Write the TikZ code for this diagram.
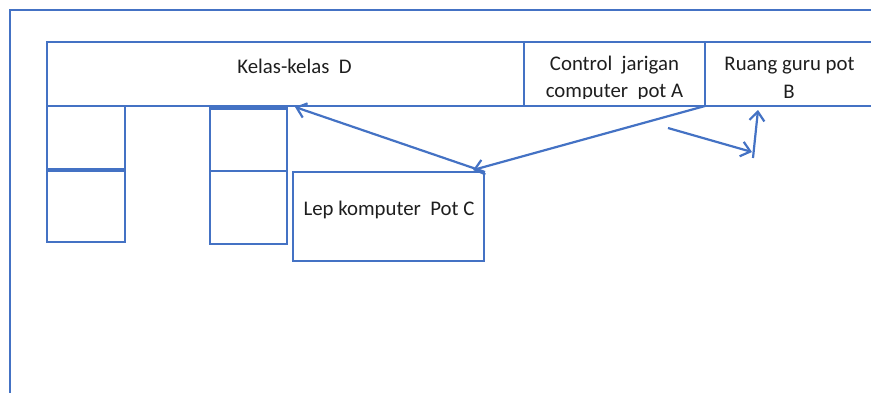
\documentclass[tikz,border=0pt]{standalone}
\usepackage{fontspec}
\setmainfont{Carlito}
\usetikzlibrary{arrows.meta,calc}
\definecolor{obl}{HTML}{4472C4}
\definecolor{txt}{HTML}{1E1E1E}
\begin{document}
\begin{tikzpicture}[x=1pt,y=-1pt,
  room/.style={draw=obl,line width=2.3pt,inner sep=0pt,outer sep=0pt,rectangle},
  lbl/.style={text=txt,inner sep=0pt,anchor=base,font=\fontsize{20.8pt}{27pt}\selectfont},
  arr/.style={draw=obl,line width=2.2pt,line join=round,-{Straight Barb[length=9pt,width=15pt]}}]
\useasboundingbox (0,0) rectangle (871,392);
\clip (0,0) rectangle (871,392);
% outer frame
\draw[obl,line width=2.6pt] (10,10) rectangle (900,430);
% top row
\node[room,minimum width=477pt,minimum height=64pt] (kelas) at (285.5,74) {};
\node[room,minimum width=181pt,minimum height=64pt] (ctrl) at (614.5,74) {};
\node[room,minimum width=180pt,minimum height=64pt] (ruang) at (795,74) {};
% left column boxes
\node[room,minimum width=78pt,minimum height=64pt] (l1) at (86,138) {};
\node[room,minimum width=78pt,minimum height=72pt] (l2) at (86,206) {};
\draw[obl,line width=3.2pt] (l1.south west) -- (l1.south east);
% middle column boxes
\node[room,minimum width=77pt,minimum height=63pt] (m1) at (248.5,139.5) {};
\node[room,minimum width=77pt,minimum height=73pt] (m2) at (248.5,207.5) {};
\draw[obl,line width=3.2pt] (m1.north west) -- (m1.north east);
% lep komputer box
\node[room,minimum width=191pt,minimum height=89pt] (lep) at (388.5,216.5) {};
% texts
\node[lbl] (tkelas) at (294.5,73.3) {Kelas-kelas\ \ D};
\node[lbl] (tctrla) at (614.5,70.7) {Control\ \ jarigan};
\begin{scope}
  \clip (525,80) rectangle (704,98.3);
  \node[lbl] (tctrlb) at (614.5,97) {computer\ \ pot A};
\end{scope}
\node[lbl] (truanga) at (789.5,70) {Ruang guru pot};
\node[lbl] (truangb) at (789,98.3) {B};
\node[lbl] (tlep) at (389,215.7) {Lep komputer\ \ Pot C};
% connectors
\coordinate (a1end) at ($(lep.north east)+(-11,-2)$);
\coordinate (a2end) at ($(m1.north east)+(8,-1)$);
\draw[arr] (ctrl.south east) -- (a1end);
\draw[arr] ($(lep.north east)+(1,0)$) -- (a2end);
\coordinate (s1) at (668,128);
\coordinate (s2) at (752,152);
\coordinate (s3) at (753,158);
\coordinate (s4) at (758,110);
\draw[arr] (s1) -- (s2);
\draw[arr] (s3) -- (s4);
\end{tikzpicture}
\end{document}
